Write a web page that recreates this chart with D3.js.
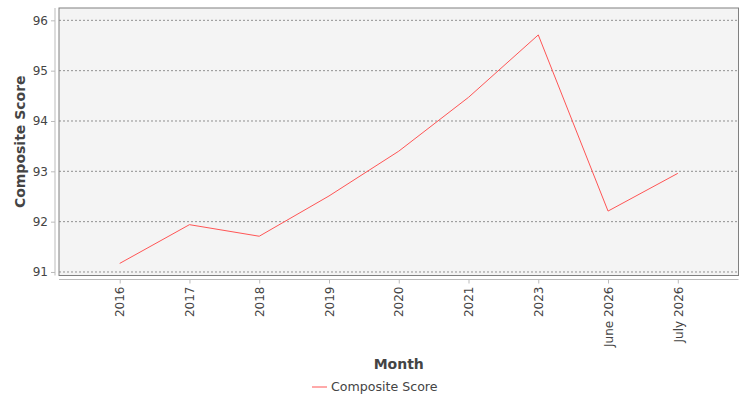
<!DOCTYPE html>
<html>
<head>
<meta charset="utf-8">
<script src="https://cdn.jsdelivr.net/npm/d3@7"></script>
<style>
  body { margin: 0; background: #fff; }
  text { font-family: "DejaVu Sans", sans-serif; }
</style>
</head>
<body>
<script>
const months = ["2016", "2017", "2018", "2019", "2020", "2021", "2023", "June 2026", "July 2026"];
const scores = [91.17, 91.94, 91.71, 92.51, 93.40, 94.47, 95.71, 92.21, 92.96];
const yTicks = [91, 92, 93, 94, 95, 96];

const width = 750, height = 400;
const plot = {left: 59, top: 8, right: 738.5, bottom: 275.5};

const svg = d3.select("body").append("svg")
    .attr("width", width)
    .attr("height", height);

const x = d3.scalePoint()
    .domain(months)
    .range([plot.left, plot.right])
    .padding(0.87);

const y = d3.scaleLinear()
    .domain([90.93, 96.245])
    .range([plot.bottom, plot.top]);

svg.append("rect")
    .attr("x", plot.left)
    .attr("y", plot.top)
    .attr("width", plot.right - plot.left)
    .attr("height", plot.bottom - plot.top)
    .attr("fill", "#f4f4f4");

// gridlines
svg.append("g")
  .selectAll("line")
  .data(yTicks)
  .join("line")
    .attr("x1", plot.left)
    .attr("x2", plot.right)
    .attr("y1", d => y(d))
    .attr("y2", d => y(d))
    .attr("stroke", "#777")
    .attr("stroke-width", 0.8)
    .attr("stroke-dasharray", "2,2");

svg.append("rect")
    .attr("x", plot.left)
    .attr("y", plot.top)
    .attr("width", plot.right - plot.left)
    .attr("height", plot.bottom - plot.top)
    .attr("fill", "none")
    .attr("stroke", "#808080");

// y axis
const yAxis = svg.append("g")
    .attr("transform", `translate(${plot.left - 4},0)`)
    .call(d3.axisLeft(y).tickValues(yTicks).tickSize(4).tickPadding(3).tickFormat(d3.format("d")));
yAxis.select(".domain").attr("stroke", "#bbb").attr("d", `M0,${plot.top}V${plot.bottom}`);
yAxis.selectAll(".tick line").attr("stroke", "#bbb");
yAxis.selectAll(".tick text").attr("fill", "#444").style("font-size", "12px");

// x axis
const xAxis = svg.append("g")
    .attr("transform", `translate(0,${plot.bottom + 4})`)
    .call(d3.axisBottom(x).tickSize(4).tickPadding(0));
xAxis.select(".domain").attr("stroke", "#bbb").attr("d", `M${plot.left},0H${plot.right}`);
xAxis.selectAll(".tick line").attr("stroke", "#bbb");
xAxis.selectAll(".tick text")
    .attr("fill", "#444")
    .style("font-size", "12px")
    .attr("transform", "rotate(-90)")
    .attr("text-anchor", "end")
    .attr("x", -7)
    .attr("y", 0)
    .attr("dy", "0.35em");

// line
svg.append("path")
    .datum(scores)
    .attr("fill", "none")
    .attr("stroke", "#ff5555")
    .attr("stroke-width", 1)
    .attr("d", d3.line().x((d, i) => x(months[i])).y(d => y(d)));

// axis titles
svg.append("text")
    .attr("transform", `translate(25,${(plot.top + plot.bottom) / 2}) rotate(-90)`)
    .attr("text-anchor", "middle")
    .attr("fill", "#444")
    .style("font-size", "14px")
    .style("font-weight", "bold")
    .text("Composite Score");

svg.append("text")
    .attr("x", (plot.left + plot.right) / 2)
    .attr("y", 369)
    .attr("text-anchor", "middle")
    .attr("fill", "#444")
    .style("font-size", "14px")
    .style("font-weight", "bold")
    .text("Month");

// legend
const legend = svg.append("g").attr("transform", "translate(312,387)");
legend.append("line")
    .attr("x1", 0).attr("x2", 15)
    .attr("stroke", "#ff5555");
legend.append("text")
    .attr("x", 19)
    .attr("dy", "0.35em")
    .attr("fill", "#444")
    .style("font-size", "12.6px")
    .text("Composite Score");
</script>
</body>
</html>
